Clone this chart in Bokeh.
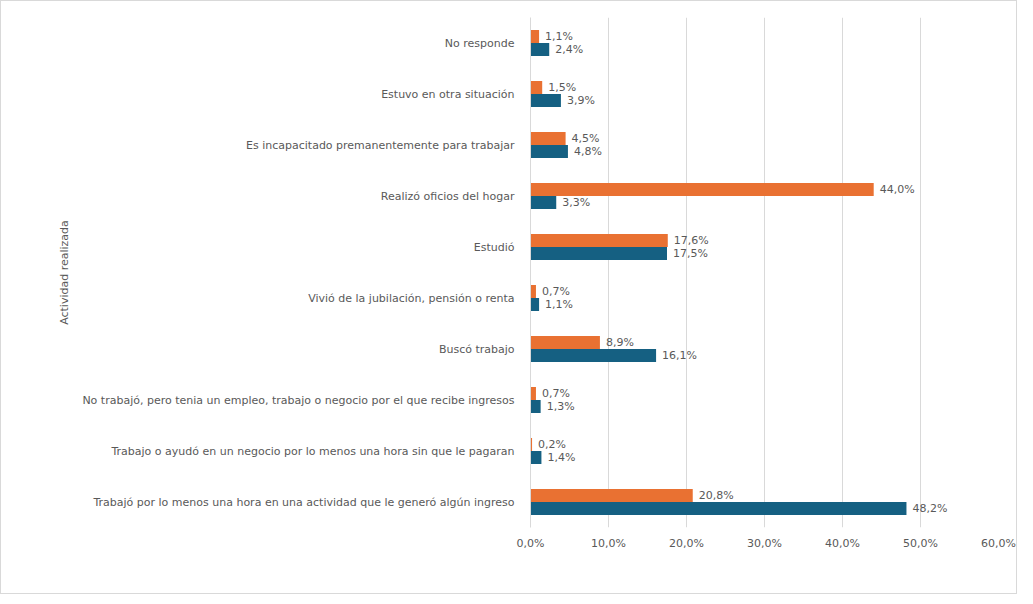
from bokeh.plotting import figure
from bokeh.layouts import column
from bokeh.models import (ColumnDataSource, FactorRange, Range1d, FixedTicker,
                          CustomJSTickFormatter, Legend, LegendItem, CDSView,
                          IndexFilter)
from bokeh.transform import dodge
from bokeh.core.properties import value
from bokeh.embed import file_html
from bokeh.resources import INLINE

categories = [
    "No responde",
    "Estuvo en otra situación",
    "Es incapacitado premanentemente para trabajar",
    "Realizó oficios del hogar",
    "Estudió",
    "Vivió de la jubilación, pensión o renta",
    "Buscó trabajo",
    "No trabajó, pero tenia un empleo, trabajo o negocio por el que recibe ingresos",
    "Trabajo o ayudó en un negocio por lo menos una hora sin que le pagaran",
    "Trabajó por lo menos una hora en una actividad que le generó algún ingreso",
]
mujeres = [1.1, 1.5, 4.5, 44.0, 17.6, 0.7, 8.9, 0.7, 0.2, 20.8]
hombres = [2.4, 3.9, 4.8, 3.3, 17.5, 1.1, 16.1, 1.3, 1.4, 48.2]
x_ticks = [0, 10, 20, 30, 40, 50, 60]
series_names = ["% mujeres", "% Hombres"]

FONT = "DejaVu Sans"
GRAY = "#595959"
ORANGE = "#E97132"
BLUE = "#156082"


def fmt(v):
    return f"{v:.1f}".replace(".", ",") + "%"


src = ColumnDataSource(dict(
    cat=categories,
    muj=mujeres,
    hom=hombres,
    muj_lbl=[fmt(v) for v in mujeres],
    hom_lbl=[fmt(v) for v in hombres],
))

p = figure(
    width=1015, height=556,
    y_range=FactorRange(*reversed(categories)),
    x_range=Range1d(0, 60),
    output_backend="svg", toolbar_location=None,
    min_border_left=529, min_border_right=18,
    min_border_top=16, min_border_bottom=30,
)
p.frame_align = False

p.hbar(y=dodge("cat", 0.127, range=p.y_range), right="muj", left=0,
       height=0.255, source=src, color=ORANGE, line_color=None)
p.hbar(y=dodge("cat", -0.127, range=p.y_range), right="hom", left=0,
       height=0.255, source=src, color=BLUE, line_color=None)

p.text(x="muj", y=dodge("cat", 0.127, range=p.y_range), text="muj_lbl",
       source=src, x_offset=6, text_baseline="middle", text_align="left",
       text_font=value(FONT), text_font_size="11px", text_color=GRAY)
p.text(x="hom", y=dodge("cat", -0.127, range=p.y_range), text="hom_lbl",
       source=src, x_offset=6, text_baseline="middle", text_align="left",
       text_font=value(FONT), text_font_size="11px", text_color=GRAY)

p.xaxis.ticker = FixedTicker(ticks=x_ticks)
p.xaxis.formatter = CustomJSTickFormatter(
    code="return tick.toFixed(1).replace('.', ',') + '%';")
p.xaxis.axis_line_color = None
p.xaxis.major_tick_line_color = None
p.xaxis.minor_tick_line_color = None
p.xaxis.major_label_text_font = FONT
p.xaxis.major_label_text_font_size = "11px"
p.xaxis.major_label_text_color = GRAY
p.xaxis.major_label_standoff = 3

p.yaxis.axis_label = "Actividad realizada"
p.yaxis.axis_label_text_font = FONT
p.yaxis.axis_label_text_font_size = "11px"
p.yaxis.axis_label_text_font_style = "normal"
p.yaxis.axis_label_text_color = GRAY
p.yaxis.axis_label_standoff = 8
p.yaxis.axis_line_color = "#d9d9d9"
p.yaxis.major_tick_line_color = None
p.yaxis.minor_tick_line_color = None
p.yaxis.major_label_text_font = FONT
p.yaxis.major_label_text_font_size = "11px"
p.yaxis.major_label_text_color = GRAY
p.yaxis.major_label_standoff = 10

p.ygrid.grid_line_color = None
p.xgrid.grid_line_color = "#d9d9d9"
p.outline_line_color = None

# legend strip below the chart: its renderers draw nothing (empty view),
# only the legend swatches are visible
leg = figure(width=1015, height=36, x_range=Range1d(0, 60),
             y_range=Range1d(0, 1),
             output_backend="svg", toolbar_location=None,
             min_border=0, min_border_left=0, min_border_right=0,
             min_border_top=0, min_border_bottom=0)
leg.frame_align = False
leg.axis.visible = False
leg.grid.grid_line_color = None
leg.outline_line_color = None
leg.background_fill_color = None
leg.border_fill_color = None
empty_view_m = CDSView(filter=IndexFilter(indices=[]))
empty_view_h = CDSView(filter=IndexFilter(indices=[]))
lr_m = leg.hbar(y=0.5, right="muj", left=0, height=1, source=src,
                view=empty_view_m, color=ORANGE, line_color=None)
lr_h = leg.hbar(y=0.5, right="hom", left=0, height=1, source=src,
                view=empty_view_h, color=BLUE, line_color=None)

legend = Legend(items=[LegendItem(label=series_names[0], renderers=[lr_m], index=0),
                       LegendItem(label=series_names[1], renderers=[lr_h], index=0)],
                orientation="horizontal", location=(436, 12),
                label_text_font=FONT, label_text_font_size="11px",
                label_text_color=GRAY, glyph_width=6, glyph_height=6,
                label_standoff=3, spacing=16, border_line_color=None,
                background_fill_alpha=0, padding=4, margin=0)
leg.add_layout(legend, "center")

layout = column(p, leg, spacing=0, styles={"border": "1px solid #d9d9d9"})

open("out.html", "w").write(file_html(layout, INLINE))
